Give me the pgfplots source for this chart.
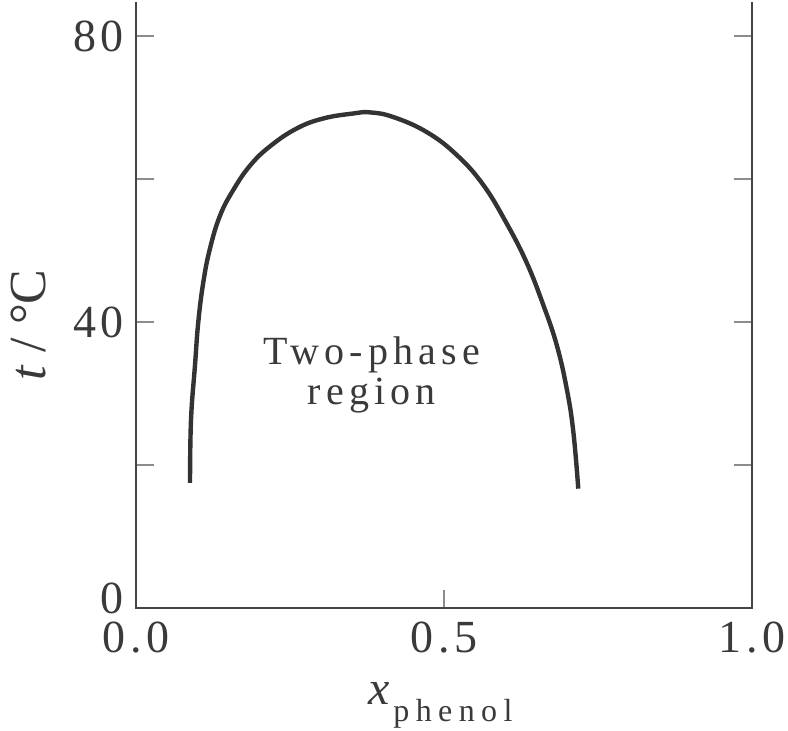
\documentclass[border=0pt]{standalone}
\usepackage{pgfplots}
\pgfplotsset{compat=1.18}
\usepackage{fontspec}
\setmainfont{Liberation Serif}
\newfontfamily\tickfont[LetterSpace=10]{Liberation Serif}
\newfontfamily\spfont[LetterSpace=13]{Liberation Serif}
\newfontfamily\subfont[LetterSpace=20]{Liberation Serif}
\definecolor{curvecol}{HTML}{333333}
\definecolor{axiscol}{HTML}{444444}
\definecolor{tickcol}{HTML}{8C8C8C}
\definecolor{textcol}{HTML}{3A3A3A}
\begin{document}
\begin{tikzpicture}
\path[use as bounding box] (-68pt,-61.5pt) rectangle (326pt,304pt);
\begin{axis}[
  at={(0,0)}, anchor=south west,
  scale only axis, width=308pt, height=303pt,
  xmin=0, xmax=1, ymin=0, ymax=84.8,
  clip=false,
  axis line style={draw=none},
  xtick={0,0.5,1}, xticklabels={0.0,0.5,1.0},
  ytick={0,20,40,60,80}, yticklabels={\raisebox{10pt}{0},,40,,80},
  xtick pos=left, ytick pos=both,
  tick align=inside, major tick length=9pt,
  tick style={color=tickcol, line width=1pt},
  /pgf/number format/assume math mode=true,
  tick label style={font=\fontsize{23}{23}\tickfont, text=textcol, inner sep=1pt},
  x tick label style={yshift=-6pt},
  y tick label style={xshift=-4.8pt},
  xlabel={\fontsize{24}{24}\selectfont\textit{x}\hspace{2pt}\raisebox{-8.5pt}{\fontsize{16}{16}\subfont phenol}},
  ylabel={\fontsize{26}{26}\selectfont\textit{t} / °C},
  every axis x label/.style={at={(axis description cs:0.494,-0.160)}, anchor=base, text=textcol},
  every axis y label/.style={at={(axis description cs:-0.1477,0.467)}, rotate=90, anchor=base, text=textcol},
]
\draw[axiscol, line width=1.2pt] (rel axis cs:0,1) -- (rel axis cs:0,0) -- (rel axis cs:1,0) -- (rel axis cs:1,1);
\addplot[curvecol, line width=2.2pt, smooth, tension=0.7] coordinates {
(0.0877,17.5)
(0.0893,26.3)
(0.0958,34.0)
(0.1011,40.0)
(0.1093,45.6)
(0.1201,50.3)
(0.1364,54.9)
(0.1580,58.5)
(0.1851,61.9)
(0.2175,64.6)
(0.2609,67.1)
(0.3041,68.5)
(0.3528,69.2)
(0.380,69.35)
(0.4177,68.7)
(0.4719,66.6)
(0.5206,63.4)
(0.5638,59.2)
(0.6018,53.8)
(0.6343,48.3)
(0.6612,42.4)
(0.6830,36.8)
(0.6992,30.7)
(0.7099,24.7)
(0.7180,16.7)
};
\node[font=\fontsize{20}{20}\spfont, align=center, text=textcol] at (axis cs:0.383,32.6) {Two-phase\\region};
\end{axis}
\end{tikzpicture}
\end{document}
